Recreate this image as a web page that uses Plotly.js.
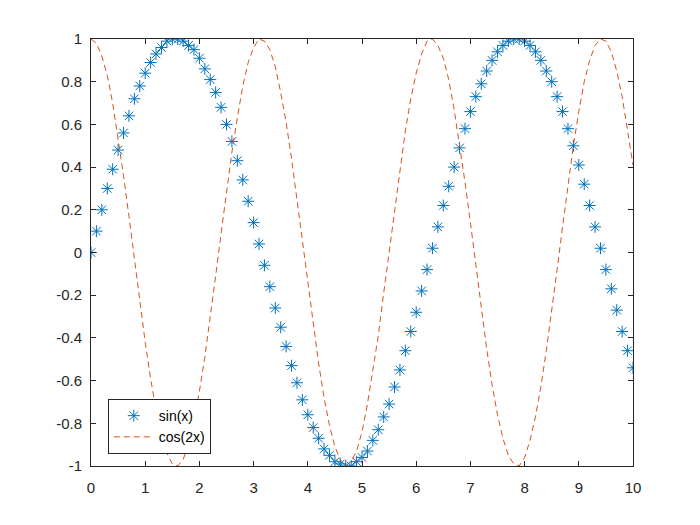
<!DOCTYPE html>
<html>
<head>
<meta charset="utf-8">
<script src="https://cdn.plot.ly/plotly-3.0.1.min.js"></script>
<style>html,body{margin:0;padding:0;background:#fff;}#chart{width:700px;height:525px;}</style>
</head>
<body>
<div id="chart"></div>
<script>
// x from 0 to 10 in steps of 0.1
const xValues = [0,0.1,0.2,0.3,0.4,0.5,0.6,0.7,0.8,0.9,1,1.1,1.2,1.3,1.4,1.5,1.6,1.7,1.8,1.9,2,2.1,2.2,2.3,2.4,2.5,2.6,2.7,2.8,2.9,3,3.1,3.2,3.3,3.4,3.5,3.6,3.7,3.8,3.9,4,4.1,4.2,4.3,4.4,4.5,4.6,4.7,4.8,4.9,5,5.1,5.2,5.3,5.4,5.5,5.6,5.7,5.8,5.9,6,6.1,6.2,6.3,6.4,6.5,6.6,6.7,6.8,6.9,7,7.1,7.2,7.3,7.4,7.5,7.6,7.7,7.8,7.9,8,8.1,8.2,8.3,8.4,8.5,8.6,8.7,8.8,8.9,9,9.1,9.2,9.3,9.4,9.5,9.6,9.7,9.8,9.9,10];
const sinValues = [0,0.10,0.20,0.30,0.39,0.48,0.56,0.64,0.72,0.78,0.84,0.89,0.93,0.96,0.99,1.00,1.00,0.99,0.97,0.95,0.91,0.86,0.81,0.75,0.68,0.60,0.52,0.43,0.34,0.24,0.14,0.04,-0.06,-0.16,-0.26,-0.35,-0.44,-0.53,-0.61,-0.69,-0.76,-0.82,-0.87,-0.92,-0.95,-0.98,-0.99,-1.00,-1.00,-0.98,-0.96,-0.93,-0.88,-0.83,-0.77,-0.71,-0.63,-0.55,-0.46,-0.37,-0.28,-0.18,-0.08,0.02,0.12,0.22,0.31,0.40,0.49,0.58,0.66,0.73,0.79,0.85,0.90,0.94,0.97,0.99,1.00,1.00,0.99,0.97,0.94,0.90,0.85,0.80,0.73,0.66,0.58,0.50,0.41,0.32,0.22,0.12,0.02,-0.08,-0.17,-0.27,-0.37,-0.46,-0.54];
const cos2Values = [1.00,0.98,0.92,0.83,0.70,0.54,0.36,0.17,-0.03,-0.23,-0.42,-0.59,-0.74,-0.86,-0.94,-0.99,-1.00,-0.97,-0.90,-0.79,-0.65,-0.49,-0.31,-0.11,0.09,0.28,0.47,0.63,0.78,0.89,0.96,1.00,0.99,0.95,0.87,0.75,0.61,0.44,0.25,0.05,-0.15,-0.34,-0.52,-0.68,-0.81,-0.91,-0.97,-1.00,-0.98,-0.93,-0.84,-0.71,-0.56,-0.39,-0.19,0.00,0.20,0.39,0.57,0.72,0.84,0.93,0.99,1.00,0.97,0.91,0.81,0.67,0.51,0.33,0.14,-0.06,-0.26,-0.45,-0.62,-0.76,-0.87,-0.95,-0.99,-1.00,-0.96,-0.88,-0.77,-0.63,-0.46,-0.28,-0.08,0.12,0.32,0.50,0.66,0.80,0.90,0.97,1.00,0.99,0.94,0.85,0.73,0.58,0.41];
const seriesNames = ["sin(x)", "cos(2x)"];
const xTickVals = [0,1,2,3,4,5,6,7,8,9,10];
const xTickText = ["0","1","2","3","4","5","6","7","8","9","10"];
const yTickVals = [-1,-0.8,-0.6,-0.4,-0.2,0,0.2,0.4,0.6,0.8,1];
const yTickText = ["-1","-0.8","-0.6","-0.4","-0.2","0","0.2","0.4","0.6","0.8","1"];

const traces = [
  {
    x: xValues, y: sinValues, name: seriesNames[0], type: "scatter", mode: "markers",
    marker: {symbol: "asterisk-open", size: 10, color: "#0072BD", line: {color: "#0072BD", width: 1}}
  },
  {
    x: xValues, y: cos2Values, name: seriesNames[1], type: "scatter", mode: "lines",
    line: {color: "#D95319", width: 1, dash: "6px,4px"}
  }
];

const tickFont = {family: "Liberation Sans, Arial, sans-serif", size: 15, color: "#262626"};
const axisCommon = {
  showgrid: false, zeroline: false, showline: true, linecolor: "#262626", linewidth: 1,
  mirror: "allticks", ticks: "inside", ticklen: 5, tickcolor: "#262626", tickwidth: 1,
  tickfont: tickFont, tickmode: "array"
};

const layout = {
  width: 700, height: 525,
  margin: {l: 91, r: 67, t: 39, b: 59},
  paper_bgcolor: "#ffffff", plot_bgcolor: "#ffffff",
  xaxis: Object.assign({}, axisCommon, {range: [0, 10], tickvals: xTickVals, ticktext: xTickText, ticklabelstandoff: 8}),
  yaxis: Object.assign({}, axisCommon, {range: [-1, 1], tickvals: yTickVals, ticktext: yTickText, ticklabelstandoff: 5}),
  showlegend: true,
  legend: {
    x: 0.031, y: 0.028, xanchor: "left", yanchor: "bottom",
    bordercolor: "#262626", borderwidth: 1, bgcolor: "#ffffff",
    font: {family: "Liberation Sans, Arial, sans-serif", size: 14, color: "#000000"},
    tracegroupgap: 0, itemwidth: 40
  }
};

Plotly.newPlot("chart", traces, layout, {displayModeBar: false, staticPlot: true});
</script>
</body>
</html>
